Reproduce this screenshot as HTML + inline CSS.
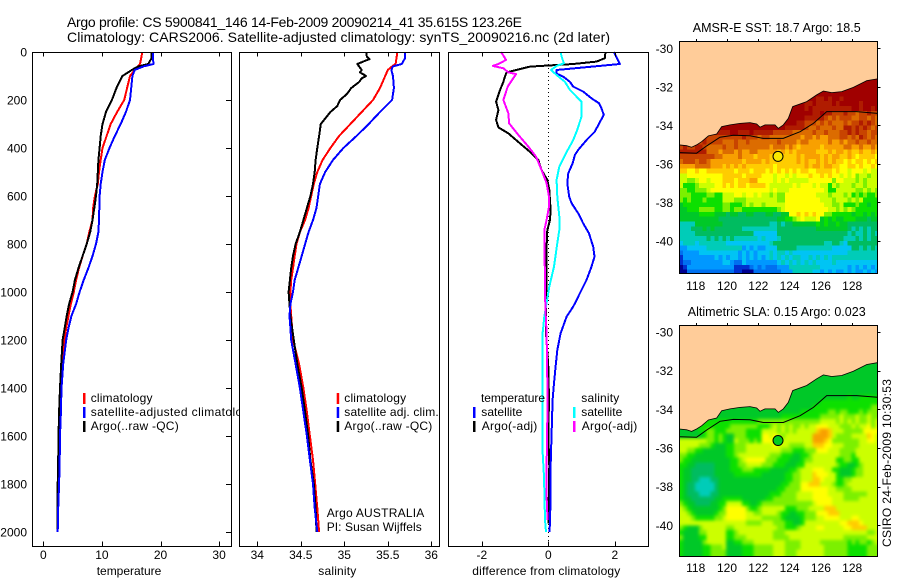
<!DOCTYPE html>
<html lang="en">
<head>
<meta charset="utf-8">
<title>Argo profile</title>
<style>
html,body{margin:0;padding:0;background:#fff;}
svg{display:block;}
text{font-family:"Liberation Sans",sans-serif;font-size:12px;fill:#000;}
.title{font-size:14px;}
.mt{font-size:12.5px;}
</style>
</head>
<body>
<svg id="fig" xmlns="http://www.w3.org/2000/svg" width="900" height="580" viewBox="0 0 900 580">
<rect x="0" y="0" width="900" height="580" fill="#ffffff"/>
<defs>
<clipPath id="clipLegendT"><rect x="0" y="380" width="240" height="60"/></clipPath>
<clipPath id="clipMap1"><rect x="679.5" y="41.5" width="198" height="232"/></clipPath>
<clipPath id="clipMap2"><rect x="679.5" y="325.5" width="198" height="231"/></clipPath>
<filter id="smoothField" x="-10%" y="-10%" width="120%" height="120%" color-interpolation-filters="sRGB"><feGaussianBlur stdDeviation="1.7"/></filter>
</defs>
<g id="maps"></g>
<g id="plots"></g>

<text class="title" x="67" y="27" textLength="455">Argo profile: CS 5900841_146 14-Feb-2009 20090214_41 35.615S 123.26E</text>
<text class="title" x="67" y="42" textLength="543">Climatology: CARS2006. Satellite-adjusted climatology: synTS_20090216.nc (2d later)</text>

<text x="96.7" y="575" textLength="64.6">temperature</text>
<text x="318.3" y="575" textLength="38">salinity</text>
<text x="472.3" y="575" textLength="148">difference from climatology</text>

<g>
<rect x="83" y="393" width="2.5" height="11" fill="#ff0000"/>
<text x="90.7" y="402" textLength="61.8">climatology</text>
<rect x="83" y="407" width="2.5" height="11" fill="#0000ff"/>
<text x="90.7" y="416" textLength="165" clip-path="url(#clipLegendT)">satellite-adjusted climatology</text>
<rect x="83" y="421" width="2.5" height="11" fill="#000000"/>
<text x="90.7" y="430" textLength="88">Argo(..raw -QC)</text>
</g>

<g>
<rect x="336.7" y="393" width="2.5" height="11" fill="#ff0000"/>
<text x="344.3" y="402" textLength="61.8">climatology</text>
<rect x="336.7" y="407" width="2.5" height="11" fill="#0000ff"/>
<text x="344.3" y="416" textLength="94.4">satellite adj. clim.</text>
<rect x="336.7" y="421" width="2.5" height="11" fill="#000000"/>
<text x="344.3" y="430" textLength="88">Argo(..raw -QC)</text>
<text x="326.7" y="517" textLength="97.6">Argo AUSTRALIA</text>
<text x="326.7" y="531" textLength="95">PI: Susan Wijffels</text>
</g>

<g>
<text x="481" y="402" textLength="64">temperature</text>
<rect x="473" y="407" width="2.5" height="11" fill="#0000ff"/>
<text x="481.3" y="416" textLength="41">satellite</text>
<rect x="473" y="421" width="2.5" height="11" fill="#000000"/>
<text x="481.7" y="430" textLength="55.6">Argo(-adj)</text>
<text x="581.3" y="402" textLength="38">salinity</text>
<rect x="573" y="407" width="2.5" height="11" fill="#00ffff"/>
<text x="581.3" y="416" textLength="41">satellite</text>
<rect x="573" y="421" width="2.5" height="11" fill="#ff00ff"/>
<text x="581.7" y="430" textLength="55.6">Argo(-adj)</text>
</g>

<text class="mt" x="692.7" y="32" textLength="168">AMSR-E SST: 18.7 Argo: 18.5</text>
<text class="mt" x="687.7" y="316" textLength="178">Altimetric SLA: 0.15 Argo: 0.023</text>
<text x="0" y="0" transform="translate(891,547) rotate(-90)" textLength="168">CSIRO 24-Feb-2009 10:30:53</text>
</svg>

<script>
// ---------- profile data ----------
const profileDepths = [0,25,50,60,75,100,150,200,250,300,350,400,450,500,550,600,650,700,750,800,850,900,950,1000,1050,1100,1150,1200,1300,1400,1500,1600,1700,1800,1900,2000];
const tempClimatology = [16.9,16.7,16.5,16.1,15.6,14.8,14.3,13.8,12.6,11.5,10.8,10.1,9.8,9.5,9.3,8.8,8.5,8.4,7.85,7.4,6.7,6.1,5.6,5.2,4.7,4.3,3.9,3.6,3.2,3.0,2.75,2.6,2.6,2.55,2.5,2.45];
const tempSatellite = [18.7,18.7,18.8,17.1,15.6,15.2,15,14.8,14.1,13.2,12.2,11.3,10.5,10.1,9.8,9.6,9.55,9.5,9.4,9,8.4,7.7,6.9,6.2,5.6,4.8,4.3,3.9,3.4,3.1,3,2.85,2.8,2.7,2.55,2.45];
const tempArgo = [18.5,18.5,17.9,16.2,15.1,13.5,12.5,11.7,10.7,10.1,9.8,9.6,9.4,9.3,9.2,9,8.7,8.4,8,7.4,6.7,6,5.4,5,4.4,4,3.65,3.3,3.05,2.85,2.7,2.6,2.55,2.45,2.4,2.4];

const salClimatology = [35.61,35.6,35.59,35.55,35.5,35.47,35.41,35.33,35.2,35.07,34.94,34.84,34.75,34.69,34.65,34.62,34.59,34.55,34.49,34.45,34.43,34.41,34.39,34.38,34.38,34.39,34.4,34.41,34.48,34.53,34.57,34.605,34.64,34.665,34.69,34.71];
const salSatellite = [35.7,35.7,35.66,35.56,35.54,35.56,35.57,35.55,35.41,35.28,35.14,34.99,34.87,34.78,34.72,34.7,34.68,34.64,34.59,34.55,34.51,34.47,34.43,34.41,34.38,34.37,34.38,34.39,34.44,34.49,34.53,34.57,34.605,34.64,34.66,34.69];
const salArgoDepths = [0,20,30,35,50,60,75,85,100,110,125,150,175,200,225,250,300,350,400,450,500,550,600,650,700,750,800,850,900,950,1000,1050,1100,1200,1300,1400,1500,1600,1700,1800,1900,2000];
const salArgo = [35.25,35.26,35.29,35.25,35.15,35.17,35.2,35.18,35.25,35.2,35.17,35.08,35.03,34.95,34.92,34.84,34.73,34.71,34.69,34.67,34.66,34.64,34.61,34.57,34.53,34.49,34.44,34.41,34.39,34.375,34.36,34.37,34.38,34.42,34.46,34.51,34.55,34.585,34.61,34.65,34.67,34.68];

const diffTempSatDepths = [0,50,75,90,103,124,144,165,193,214,235,262,297,332,367,408,429,464,505,547,603,630,672,714,755,811,853,894,950,1005,1033,1061,1103,1172,1242,1311,1380,1450,1589,1728,1867,1999];
const diffTempSat = [1.97,2.15,0.25,0.25,0.45,0.65,0.75,1.05,1.3,1.53,1.6,1.67,1.53,1.4,1.15,0.9,0.8,0.73,0.6,0.57,0.63,0.7,0.9,1.05,1.22,1.35,1.39,1.3,1.15,0.95,0.85,0.75,0.55,0.37,0.27,0.22,0.17,0.13,0.1,0.07,0.07,0.04];
const diffTempArgoDepths = [0,26,40,50,61,85,100,124,158,207,242,283,314,339,381,422,450,492,533,575,658,700,742,811,922,1061,1172,1311,1450,1589,1728,1964];
const diffTempArgo = [1.72,1.7,1.45,0.75,-0.55,-1.25,-1.3,-1.35,-1.45,-1.57,-1.5,-1.57,-1.5,-1.2,-0.85,-0.5,-0.3,-0.2,-0.03,0.03,0.07,0.05,-0.03,-0.05,-0.05,-0.07,-0.07,0,0.02,0,0.03,0];
const diffSalSatDepths = [0,19,47,58,75,96,124,158,193,207,269,325,367,422,478,533,603,686,742,797,894,978,1061,1103,1172,1311,1644,1769,1950,2000];
const diffSalSat = [0.37,0.4,0.47,0.25,0.08,0.25,0.5,0.65,0.9,1,1,0.87,0.75,0.53,0.33,0.25,0.27,0.33,0.33,0.27,0.17,0.03,-0.07,-0.12,-0.17,-0.18,-0.18,-0.13,-0.1,-0.07];
const diffSalArgoDepths = [0,33,50,58,68,85,92,144,200,256,297,346,394,436,492,547,603,644,700,742,839,922,1061,1172,1450,1728,1853,1950];
const diffSalArgo = [-1.42,-1.27,-1.5,-1.67,-1.35,-1.2,-0.97,-1.22,-1.35,-1.2,-1.18,-0.9,-0.6,-0.37,-0.2,-0.05,0.02,0.02,-0.05,-0.12,-0.12,-0.1,-0.09,-0.05,-0.02,-0.05,-0.05,-0.02];

const depthTicks = [0,200,400,600,800,1000,1200,1400,1600,1800,2000];
const tempTicks = [0,10,20,30];
const salTicks = [34,34.5,35,35.5,36];
const diffTicks = [-2,0,2];

// ---------- map data ----------
const lonTicks = [118,120,122,124,126,128];
const latTicks = [-30,-32,-34,-36,-38,-40];
const coastLons = [116.96,117.42,117.74,118.06,118.38,118.81,119.34,119.66,120.19,120.83,121.47,121.9,122.11,122.43,123.07,123.28,123.6,123.92,124.2,125.09,125.73,126.16,126.69,127.33,128.07,128.93,129.61];
const coastLats = [-35.02,-35.06,-35.14,-35.02,-34.85,-34.55,-34.45,-34.07,-33.98,-33.9,-33.86,-33.93,-34.1,-33.98,-33.98,-34.16,-33.98,-33.64,-33.03,-32.77,-32.42,-32.22,-32.3,-32.25,-32.03,-31.68,-31.59];
const shelfLons = [116.96,118.06,118.7,119.55,120.41,121.47,122.32,123.6,124.67,125.52,126.37,128.29,129.61];
const shelfLats = [-35.42,-35.45,-35.07,-34.62,-34.52,-34.54,-34.68,-34.68,-34.33,-33.9,-33.29,-33.29,-33.38];
const floatLon = 123.26;
const floatLat = -35.615;
const levelColors = ["#000090","#0030d0","#0070f0","#0098ff","#00c4f4","#00ccb8","#00bc60","#00c828","#0ce000","#7cf000","#ccff00","#ffff00","#ffcc00","#f8a000","#dc6c00","#c84400","#b01c00","#a00000"];
const sstRows = [
"hhhhhhhhhh hhhhhhhhhh hhhhhhhhhh hhhhhhhhhh hhhhhhhhhh h",
"hhhhhhhhhh hhhhhhhhhh hhhhhhhhhh hhhhhhhhhh hhhhhhhhhh h",
"hhhhhhhhhh hhhhhhhhhh hhhhhhhhhh hhhhhhhhhh hhhhhhhhhh h",
"hhhhhhhhhh hhhhhhhhhh hhhhhhhhhh hhhhhhhhhh hhhhhhhhhh h",
"hhhhhhhhhh hhhhhhhhhh hhhhhhhhhh hhhhhgghgh hghhhhhhhh h",
"hhhhhhhhhh hhhhhhhhhh hhhhhhhhhh hhgghggggh ghhhhhghhh h",
"hhhhhhhhhh hhhhhhhhhh hhhhhhhhhh hhghgggggg gggghhghhg h",
"hhhhhhhhhh hhhhhhhhhh hhhhhhhhhh hhhhgghggf ffgffeffgf f",
"hhhhhhhhhh hhhhhhhhhh hhhhhhhhhh hhgggggfef efffeeffef e",
"hhhhhhhhhh hhhhhhhhhh hhhhhhhhhh ggfffefefe eefeffgfgf e",
"hhhhhhhhhh hhhhhhhhhh hhhhhhhggg ggfeefeeef eeggfgfgfe f",
"gggggggggg ggghhggghg ggggfffffe eeeefeefee effgfgffef f",
"gggggggfff ffffffgfff effeeeeeee edeededdee effefegfef e",
"gggggfgfff feeefeefee eeeeefeeee deeddddded dedeefeefe e",
"fgffggfeee efeefeeeee eeedeeeded cdddddcddd ddeeddedde d",
"gggggggeee deeededdee dddddcdcdc dddddcccdc ddcdccdccd c",
"fffffffffe eddddedddc dddcdccccc dcddddcdcd dccdcbcccc b",
"efffeffedd ddddddcddd dcdccccccc dcdccdcdcd ccbcbccbcb c",
"ddddeeeedd dcdcdcdccc ccccbccccc ccdcddcddc cbbccbcbbc b",
"ccbbcbbccc ccccbcccbc ccbcbcbcbc bccbbccccb cbbabbbaba a",
"aabbbbbbbb bcccccbccc cbbbabbaba bbbcbbcbcb babab9aa9a a",
"aa99abbabb bcccbcccdd bbbbababaa aaabbbbbb9 bbaaa9a9aa a",
"a8889aaaab bcbcbccbcc ccbaaaaaab abbbabaa8a 9aaa9aa9aa a",
"9988999abb bbbbbbbbbb bbbabaaabb bbbbbbba88 aaaaa99a9a 9",
"9998888998 8aaabbabba baa9a99bbb bbbbbaaa9a aa9a898988 9",
"9898889888 8aaa999aaa aaaaa99bbb bbbbbbaaa9 aaa9a9a888 8",
"7888888888 8998889a9a a9aaaaabbb bbbbbbbaa9 9a88898878 8",
"7788899998 8998998888 888889abbb bbbbbbbbaa 9a9a988888 8",
"7777788887 7767766776 66776677bb cbcbcbb998 8888788787 8",
"7777777777 6666666666 6666677889 abaaab7878 7788877767 7",
"5555777777 7666666666 6665565667 7777787877 8776666666 6",
"5556667676 6666665555 5555566666 6666677777 7776565656 6",
"5555666666 6666666664 4444466666 6666666666 6665655656 5",
"5555555656 5656555555 4544456666 6666666666 6655565656 6",
"4555455555 5544444444 4445666666 6666666556 6546666666 6",
"3344444555 5555553434 3344466666 5555555554 4444665656 5",
"2333344444 4444434343 4445455454 4444444444 4445555555 5",
"1333333334 3434434343 4345454545 5445454545 5555555555 5",
"1223333333 3443224333 3333345454 5454544445 4444444444 4",
"0133333333 3333111123 2322233355 5555554444 4443434343 4",
"0022222222 2222110002 2222223335 5555443434 3343433434 3"
];
const slaRows = [
"7777777777 7777777777 7777777777 7777777777 7777777777 7",
"7777777777 7777777777 7777777777 7777777777 7777777777 7",
"7777777777 7777777777 7777777777 7777777777 7777777777 7",
"7777777777 7777777777 7777777777 7777777777 7777777777 7",
"7777777777 7777777777 7777777777 7777777777 7777777777 7",
"7777777777 7777777777 7777777777 7777777777 7777777777 7",
"7777777777 7777777777 7777777777 7777777777 7777777777 7",
"7777777777 7777777777 7777777777 7777777777 7778778888 8",
"7777777777 7777777777 7777777777 7777778888 8888888888 8",
"7777777777 7777777777 7777777777 7777888888 8888888889 9",
"7777777777 7777777777 7777777777 7888888899 8998889899 9",
"7777777777 7777777777 7777778888 8888889999 9a999a99a9 9",
"7777788888 8888888888 9999999999 999999aaaa 9a9a9a99a9 a",
"7778888888 8889999999 8889a9a9a9 9a9aabbbaa a999a9aab9 a",
"7777788998 8899999888 8aaaa9a9a9 aaaaacddca aa99999bbb b",
"7777778998 9877999888 8bbaba9aaa aaaaddddca 9999aaaacb a",
"aaaaaaa998 9877a99989 8bbbbbaaaa aaaadddcb9 999999aabb a",
"aaaaa99987 7788999aaa aaaabaaa99 99aacccbba aa9999aaaa a",
"aa99887777 7788999aaa aaaaaa9998 88999bbbaa a9999aaaaa a",
"9988777777 77889aaaaa aaa9998887 7889aaaaaa a9998aaaaa a",
"9887777777 777889abbb bb99988877 7899aaaaaa 889988aaaa a",
"8877666667 7778899aaa a999888777 88aaaaaaaa 9887789aaa a",
"8776666667 7778889998 8887777788 9aaabbbaa8 8777899aaa a",
"8776666667 7777888888 8777777889 9aaacbbbaa 8777899aaa a",
"8776655566 7777777777 7777777889 9aaaccbaaa 8899aaaaaa a",
"8766555556 7777777777 7777778899 9bbcccaaa9 889aaaaaaa a",
"8766555556 7777777777 7777788999 9bbbbbbbaa 9999aaaaaa a",
"8766655566 7777777777 7778889999 aaaabbbbaa aa999999aa a",
"8776666667 7888887777 7788999999 aaaabbbbba aa9999aaaa a",
"9877666677 88aaaa8877 8999999999 9999abbbba aaaaaaaaaa a",
"a987777777 89bbbbb988 9aaaaaa888 999aaaaccc aaaaaaaaaa a",
"aa98777778 99bbbbbaa9 9aaaa98877 88999bbbcc caaaaaaaaa a",
"aaa9888889 9abbbbbaaa a999998777 78999aabbb baaabbaaaa a",
"aaaaaaaaaa aaaaaaa999 9aaa999887 78aaaaaaaa abbcccbaaa a",
"987779aaaa aa99aaaaaa aaaaa99888 9aaaabbaaa aabbccccaa a",
"8777799aaa aa889aaaaa aaaa999aaa aaaaaaaaaa aaaaaaaa99 a",
"9777788aaa aa88999aaa aaaa9999aa aaaaaaaaaa aa999999aa a",
"8777779aaa aa7788999a aaaaaaa999 9aaaaa9999 9998989989 a",
"8777778899 9a77778889 9999aaa999 9aaaaaa999 9998888899 9",
"8777778899 9977778889 9999aaa999 aaaaaaa999 9998888899 9",
"8777778899 9977778889 9999aaa999 aaaaaaa999 9998888899 9"
];

// ---------- scales ----------
const NS = "http://www.w3.org/2000/svg";
const depthY = d => 52 + 0.24 * d;
const tempX = t => 43.3 + 5.86 * t;
const salX = s => 257.3 + 87 * (s - 34);
const diffX = v => 548.3 + 33.25 * v;
const lonX = lon => 695.7 + 15.65 * (lon - 118);
const latY1 = lat => 48.3 + 19.25 * (-30 - lat);
const latY2 = lat => 332 + 19.33 * (-30 - lat);

function mk(parent, tag, attrs, txt) {
  const el = document.createElementNS(NS, tag);
  for (const k in attrs) el.setAttribute(k, attrs[k]);
  if (txt !== undefined) el.textContent = txt;
  parent.appendChild(el);
  return el;
}

const plots = document.getElementById("plots");
const maps = document.getElementById("maps");

function drawSeries(name, color, depths, values, xf, width) {
  const pts = depths.map((d, i) => xf(values[i]).toFixed(1) + "," + depthY(d).toFixed(1)).join(" ");
  const el = mk(plots, "polyline", {points: pts, fill: "none", stroke: color, "stroke-width": width || 2, "stroke-linejoin": "round", "shape-rendering": "crispEdges"});
  
  
}

function drawFrame(name, x0, x1, y0, y1) {
  const el = mk(plots, "rect", {x: x0, y: y0, width: x1 - x0, height: y1 - y0, fill: "none", stroke: "#000", "stroke-width": 1, "shape-rendering": "crispEdges"});
  
  
}

function drawTick(x1, y1, x2, y2) {
  const el = mk(plots, "line", {x1, y1, x2, y2, stroke: "#000", "stroke-width": 1, "shape-rendering": "crispEdges"});
  
  
}

function drawXAxis(ticks, xf, top, bottom, labelY) {
  ticks.forEach(t => {
    const x = Math.round(xf(t)) + 0.5;
    drawTick(x, top, x, top + 4);
    drawTick(x, bottom, x, bottom - 5);
    const lab = mk(plots, "text", {x: xf(t), y: labelY, "text-anchor": "middle"}, String(t));
    
    
  });
}

// reference line in difference panel
const zero = mk(plots, "line", {x1: 548.5, y1: 52, x2: 548.5, y2: 546, stroke: "#000", "stroke-width": 1, "stroke-dasharray": "1 3", "shape-rendering": "crispEdges"});



// temperature panel
drawSeries('temperature-climatology-line', '#ff0000', profileDepths, tempClimatology, tempX);
drawSeries('temperature-argo-line', '#000000', profileDepths, tempArgo, tempX);
drawSeries('temperature-satellite-line', '#0000ff', profileDepths, tempSatellite, tempX);
// salinity panel
drawSeries('salinity-climatology-line', '#ff0000', profileDepths, salClimatology, salX);
drawSeries('salinity-argo-line', '#000000', salArgoDepths, salArgo, salX);
drawSeries('salinity-satellite-line', '#0000ff', profileDepths, salSatellite, salX);
// difference panel
drawSeries('diff-temperature-argo-line', '#000000', diffTempArgoDepths, diffTempArgo, diffX);
drawSeries('diff-temperature-satellite-line', '#0000ff', diffTempSatDepths, diffTempSat, diffX);
drawSeries('diff-salinity-satellite-line', '#00ffff', diffSalSatDepths, diffSalSat, diffX);
drawSeries('diff-salinity-argo-line', '#ff00ff', diffSalArgoDepths, diffSalArgo, diffX);

drawFrame('temperature-plot-frame', 32.5, 231.5, 52.5, 546.5);
drawFrame('salinity-plot-frame', 239.5, 439.5, 52.5, 546.5);
drawFrame('difference-plot-frame', 448.5, 648.5, 52.5, 546.5);

drawXAxis(tempTicks, tempX, 52.5, 546.5, 559);
drawXAxis(salTicks, salX, 52.5, 546.5, 559);
drawXAxis(diffTicks, diffX, 52.5, 546.5, 559);

depthTicks.forEach(d => {
  const y = Math.round(depthY(d)) + 0.5;
  drawTick(226, y, 231.5, y);
  const lab = mk(plots, "text", {x: 27, y: depthY(d) + 4.5, "text-anchor": "end"}, String(d));
  
  
});

// maps
function drawMap(prefix, rows, latY, clipId, x0, x1, y0, y1, labelY, floatColor, smooth) {
  const g = mk(maps, "g", {"clip-path": "url(#" + clipId + ")"});
  
  
  const field = mk(g, "g", smooth ? {filter: "url(#smoothField)"} : {});
  
  
  rows.forEach((row, r) => {
    const cells = row.replace(/ /g, "");
    const top = latY(-31.5 - 0.25 * r);
    const bot = latY(-31.5 - 0.25 * (r + 1)) + (r === rows.length - 1 ? 12 : 0);
    for (let c = 0; c < cells.length; c++) {
      const lx = lonX(116.95 + 0.25 * c) - (c === 0 ? 12 : 0);
      const rx = lonX(116.95 + 0.25 * (c + 1)) + (c === cells.length - 1 ? 12 : 0);
      const cell = mk(field, "rect", {x: lx.toFixed(2), y: top.toFixed(2), width: (rx - lx + 0.3).toFixed(2), height: (bot - top + 0.3).toFixed(2), fill: levelColors[parseInt(cells[c], 36)], "shape-rendering": "crispEdges"});
      
      
    }
  });
  const coastPts = coastLons.map((lon, i) => lonX(lon).toFixed(1) + "," + latY(coastLats[i]).toFixed(1));
  const land = mk(g, "polygon", {points: coastPts.join(" ") + " " + x1 + "," + coastPts[coastPts.length - 1].split(",")[1] + " " + x1 + "," + y0 + " " + x0 + "," + y0 + " " + x0 + "," + coastPts[0].split(",")[1], fill: "#ffcc99", stroke: "none"});
  
  
  const coast = mk(g, "polyline", {points: coastPts.join(" "), fill: "none", stroke: "#000", "stroke-width": 0.8});
  
  
  const shelf = mk(g, "polyline", {points: shelfLons.map((lon, i) => lonX(lon).toFixed(1) + "," + latY(shelfLats[i]).toFixed(1)).join(" "), fill: "none", stroke: "#000", "stroke-width": 1});
  
  
  const dot = mk(g, "circle", {cx: lonX(floatLon), cy: latY(floatLat), r: 5, fill: floatColor, stroke: "#000", "stroke-width": 1});
  
  
  const fr = mk(maps, "rect", {x: x0, y: y0, width: x1 - x0, height: y1 - y0, fill: "none", stroke: "#000", "stroke-width": 1, "shape-rendering": "crispEdges"});
  
  
  lonTicks.forEach(lon => {
    const x = Math.round(lonX(lon)) + 0.5;
    const t = mk(maps, "line", {x1: x, y1: y0, x2: x, y2: y0 - 2.5, stroke: "#000", "stroke-width": 1, "shape-rendering": "crispEdges"});
    
    
    const lab = mk(maps, "text", {x: lonX(lon), y: labelY, "text-anchor": "middle"}, String(lon));
    
    
  });
  latTicks.forEach(lat => {
    const y = Math.round(latY(lat)) + 0.5;
    const t = mk(maps, "line", {x1: x1, y1: y, x2: x1 + 3, y2: y, stroke: "#000", "stroke-width": 1, "shape-rendering": "crispEdges"});
    
    
    const lab = mk(maps, "text", {x: 673, y: latY(lat) + 4.5, "text-anchor": "end"}, String(lat));
    
    
  });
}

drawMap('sst', sstRows, latY1, 'clipMap1', 679.5, 877.5, 41.5, 273.5, 290, '#f8e800', false);
drawMap('sla', slaRows, latY2, 'clipMap2', 679.5, 877.5, 325.5, 556.5, 572, '#00cc22', true);
</script>
</body>
</html>
